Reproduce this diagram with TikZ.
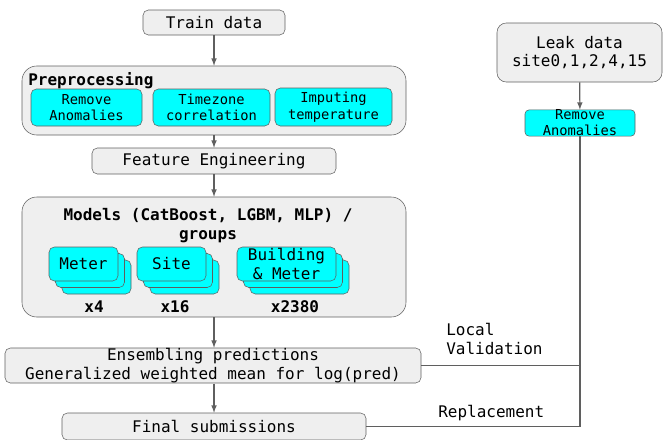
\documentclass[tikz,border=0pt]{standalone}
\usepackage{fontspec}
\setmonofont{DejaVu Sans Mono}
\usepackage{tikz}
\usetikzlibrary{shapes.geometric, arrows}

\definecolor{boxgray}{RGB}{239,239,239}
\definecolor{linegray}{RGB}{95,95,95}
\definecolor{aqua}{RGB}{0,255,255}

\begin{document}
\begin{tikzpicture}[x=0.75pt,y=0.75pt,yscale=-1,xscale=1,
  font=\ttfamily\fontsize{12}{14}\selectfont,
  graybox/.style={draw=linegray, fill=boxgray, rounded corners=4pt, inner sep=0pt, align=center},
  bigbox/.style={draw=linegray, fill=boxgray, rounded corners=11pt, inner sep=0pt},
  cyanbox/.style={draw=linegray, fill=aqua, rounded corners=4pt, inner sep=0pt, align=center},
  arr/.style={draw=linegray, -latex, line width=0.9pt},
  conn/.style={draw=linegray, line width=0.8pt}]
\useasboundingbox (0,0) rectangle (663,439);

%Shape: Rectangle [train]
\node [graybox, minimum width=106.5pt, minimum height=18.75pt] (train) at (214,22.5) {Train data};

%Shape: Rectangle [preprocessing]
\node [bigbox, minimum width=288pt, minimum height=51.75pt] (pre) at (214,100.5) {};
% Text Node
\node [anchor=base west, inner sep=0pt, font=\ttfamily\bfseries\fontsize{12}{14}\selectfont] (pretitle) at (28,85) {Preprocessing};
\node [cyanbox, minimum width=83.25pt, minimum height=27.75pt, font=\ttfamily\fontsize{10.3}{12.5}\selectfont] (rmanom) at (86.5,107.5) {Remove\\Anomalies};
\node [cyanbox, minimum width=87.75pt, minimum height=27.75pt, font=\ttfamily\fontsize{10.3}{12.5}\selectfont] (tzone) at (211.5,107.5) {Timezone\\correlation};
\node [cyanbox, minimum width=87.75pt, minimum height=28.5pt, font=\ttfamily\fontsize{10.3}{12.5}\selectfont] (impute) at (333.5,107) {Imputing\\temperature};

%Shape: Rectangle [feature]
\node [graybox, minimum width=183pt, minimum height=19.5pt] (feat) at (214,161) {Feature Engineering};

%Shape: Rectangle [models]
\node [bigbox, minimum width=288pt, minimum height=90pt] (models) at (214,257) {};
% Text Node
\node [inner sep=0pt, align=center, font=\ttfamily\bfseries\fontsize{12}{14}\selectfont] (modtitle) at (208,225.5) {Models (CatBoost, LGBM, MLP) /\\groups};

%Shape: stacked groups
\node [cyanbox, minimum width=51.75pt, minimum height=25.5pt] (meterC) at (96.5,277) {};
\node [cyanbox, minimum width=51.75pt, minimum height=25.5pt] (meterB) at (90,270.5) {};
\node [cyanbox, minimum width=51.75pt, minimum height=25.5pt] (meterA) at (83.5,264) {Meter};
\node [cyanbox, minimum width=51.75pt, minimum height=25.5pt] (siteC) at (184.5,277) {};
\node [cyanbox, minimum width=51.75pt, minimum height=25.5pt] (siteB) at (178,270.5) {};
\node [cyanbox, minimum width=51.75pt, minimum height=25.5pt] (siteA) at (171.5,264) {Site};
\node [cyanbox, minimum width=74.25pt, minimum height=25.5pt] (buildC) at (299.5,277) {};
\node [cyanbox, minimum width=74.25pt, minimum height=25.5pt] (buildB) at (293,270.5) {};
\node [cyanbox, minimum width=74.25pt, minimum height=25.5pt] (buildA) at (286.5,264) {Building\\\& Meter};

% Text Node
\node [font=\ttfamily\bfseries\fontsize{12}{14}\selectfont, inner sep=0pt] (cnt4) at (94,307) {x4};
\node [font=\ttfamily\bfseries\fontsize{12}{14}\selectfont, inner sep=0pt] (cnt16) at (175,307) {x16};
\node [font=\ttfamily\bfseries\fontsize{12}{14}\selectfont, inner sep=0pt] (cnt2380) at (295,307) {x2380};

%Shape: Rectangle [ensemble]
\node [graybox, minimum width=312pt, minimum height=26.25pt] (ens) at (213,365.5) {Ensembling predictions\\Generalized weighted mean for log(pred)};

%Shape: Rectangle [final]
\node [graybox, minimum width=228pt, minimum height=20.25pt] (final) at (214,426.5) {Final submissions};

%Shape: Rectangle [leak]
\node [graybox, rounded corners=7pt, minimum width=123.75pt, minimum height=44.25pt] (leak) at (579.5,52.5) {Leak data\\site0,1,2,4,15};
\node [cyanbox, rounded corners=3pt, minimum width=82.5pt, minimum height=19.5pt, font=\ttfamily\fontsize{10.3}{12}\selectfont] (rmleak) at (580,123) {Remove\\Anomalies};

% Text Node
\node [anchor=north west, inner sep=0pt, align=left] (lval) at (446,323) {Local\\Validation};
\node [anchor=base west, inner sep=0pt] (repl) at (438,417) {Replacement};

% arrows
\draw [arr] (train) -- (pre);
\draw [arr] (pre) -- (feat);
\draw [arr] (feat) -- (models);
\draw [arr] (models.south) -- (models.south |- ens.north);
\draw [arr] (final.north -| models.south) ++(0,-29) -- (final.north -| models.south);
\draw [arr] (leak) -- (rmleak);

% lines
\draw [conn] (rmleak.south) -- (rmleak.south |- final.east) -- (final.east);
\draw [conn] (ens.east) -- (ens.east -| rmleak.south);

\end{tikzpicture}
\end{document}
